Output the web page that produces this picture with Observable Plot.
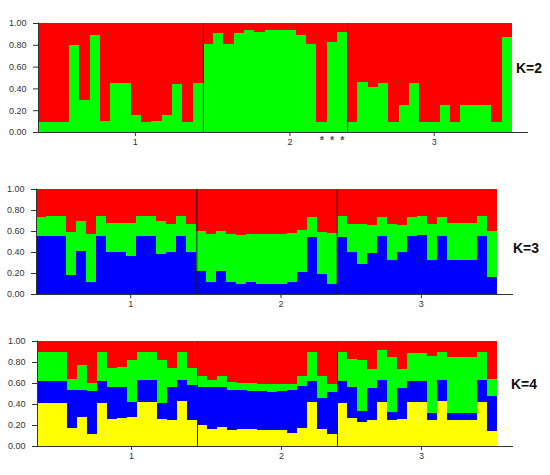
<!DOCTYPE html>
<html><head><meta charset="utf-8">
<script src="https://cdn.jsdelivr.net/npm/d3@7"></script>
<script src="https://cdn.jsdelivr.net/npm/@observablehq/plot@0.6"></script>
<style>
body{margin:0;background:#fff;width:550px;height:475px;position:relative;overflow:hidden;font-family:"Liberation Sans",Arial,sans-serif}
.panel{position:absolute;left:0}
.klab{position:absolute;font-weight:bold;font-size:14px;color:#111;line-height:16px}
</style></head><body>
<div id="p2" class="panel" style="top:0px"></div>
<div id="p3" class="panel" style="top:170px"></div>
<div id="p4" class="panel" style="top:322px"></div>
<div class="klab" style="left:516px;top:60px">K=2</div>
<div class="klab" style="left:513px;top:240px">K=3</div>
<div class="klab" style="left:511px;top:376px">K=4</div>
<script>
// populations
const popLabels = ["1", "2", "3"];
const popSizes = [16, 14, 16];
const popTicks = [9.4, 24.4, 38.4];
const yTicks = [0, 0.2, 0.4, 0.6, 0.8, 1.0];
const starred = [27, 28, 29];

// K=2 membership (bottom to top: green, red)
const k2Green = [0.09,0.09,0.09,0.80,0.29,0.89,0.10,0.45,0.45,0.16,0.09,0.10,0.16,0.44,0.09,0.45,
  0.81,0.91,0.81,0.91,0.94,0.92,0.94,0.94,0.94,0.89,0.81,0.09,0.83,0.92,
  0.09,0.46,0.41,0.45,0.09,0.25,0.45,0.09,0.09,0.25,0.09,0.25,0.25,0.25,0.09,0.87];
const k2Red = [0.91,0.91,0.91,0.20,0.71,0.11,0.90,0.55,0.55,0.84,0.91,0.90,0.84,0.56,0.91,0.55,
  0.19,0.09,0.19,0.09,0.06,0.08,0.06,0.06,0.06,0.11,0.19,0.91,0.17,0.08,
  0.91,0.54,0.59,0.55,0.91,0.75,0.55,0.91,0.91,0.75,0.91,0.75,0.75,0.75,0.91,0.13];

// K=3 membership (bottom to top: blue, green, red)
const k3Blue = [0.55,0.55,0.55,0.18,0.41,0.11,0.55,0.40,0.40,0.36,0.55,0.55,0.38,0.40,0.55,0.40,
  0.22,0.11,0.22,0.11,0.10,0.11,0.10,0.10,0.10,0.11,0.21,0.54,0.19,0.10,
  0.54,0.40,0.29,0.39,0.55,0.32,0.40,0.55,0.56,0.32,0.55,0.32,0.32,0.32,0.55,0.16];
const k3Green = [0.18,0.19,0.19,0.41,0.29,0.46,0.19,0.28,0.28,0.32,0.19,0.19,0.32,0.27,0.19,0.27,
  0.38,0.46,0.38,0.46,0.46,0.46,0.47,0.47,0.47,0.47,0.40,0.19,0.40,0.48,
  0.20,0.27,0.38,0.27,0.18,0.35,0.26,0.18,0.18,0.35,0.18,0.36,0.36,0.36,0.19,0.44];
const k3Red = [0.27,0.26,0.26,0.41,0.30,0.43,0.26,0.32,0.32,0.32,0.26,0.26,0.30,0.33,0.26,0.33,
  0.40,0.43,0.40,0.43,0.44,0.43,0.43,0.43,0.43,0.42,0.39,0.27,0.41,0.42,
  0.26,0.33,0.33,0.34,0.27,0.33,0.34,0.27,0.26,0.33,0.27,0.32,0.32,0.32,0.26,0.40];

// K=4 membership (bottom to top: yellow, blue, green, red)
const k4Yellow = [0.41,0.41,0.41,0.17,0.28,0.11,0.41,0.26,0.27,0.28,0.42,0.42,0.26,0.25,0.43,0.25,
  0.20,0.16,0.18,0.15,0.16,0.16,0.15,0.15,0.15,0.12,0.17,0.42,0.16,0.11,
  0.41,0.27,0.23,0.25,0.42,0.25,0.26,0.42,0.42,0.25,0.43,0.25,0.25,0.25,0.42,0.14];
const k4Blue = [0.21,0.21,0.21,0.36,0.25,0.41,0.21,0.30,0.29,0.14,0.21,0.21,0.15,0.31,0.20,0.33,
  0.36,0.40,0.38,0.38,0.37,0.36,0.37,0.36,0.37,0.41,0.40,0.20,0.30,0.40,
  0.21,0.29,0.10,0.30,0.21,0.07,0.29,0.20,0.20,0.06,0.20,0.06,0.06,0.06,0.21,0.34];
const k4Green = [0.28,0.28,0.28,0.11,0.24,0.08,0.28,0.18,0.19,0.40,0.27,0.27,0.41,0.18,0.27,0.16,
  0.11,0.07,0.11,0.08,0.07,0.08,0.07,0.08,0.07,0.06,0.10,0.28,0.21,0.08,
  0.28,0.27,0.49,0.18,0.28,0.53,0.18,0.27,0.27,0.55,0.27,0.54,0.54,0.54,0.27,0.16];
const k4Red = [0.10,0.10,0.10,0.36,0.23,0.40,0.10,0.26,0.25,0.18,0.10,0.10,0.18,0.26,0.10,0.26,
  0.33,0.37,0.33,0.39,0.40,0.40,0.41,0.41,0.41,0.41,0.33,0.10,0.33,0.41,
  0.10,0.17,0.18,0.27,0.09,0.15,0.27,0.11,0.11,0.14,0.10,0.15,0.15,0.15,0.10,0.36];

const RED = "#ff0000", GREEN = "#00ff00", BLUE = "#0000ff", YELLOW = "#ffff00";
const N = d3.sum(popSizes);
const bounds = d3.cumsum(popSizes).slice(0, -1);

function panel(el, layers, colors, g, stars) {
  const rows = [];
  for (let i = 0; i < N; i++) {
    let cum = 0;
    layers.forEach((arr, j) => {
      const v = arr[i];
      rows.push({i, y1: cum, y2: cum + v, c: colors[j]});
      cum += v;
    });
    rows[rows.length - 1].y2 = 1;
  }
  // x domain extends beyond the bars so the baseline runs past them
  const xMax = N * (g.axisEnd - g.left) / (g.barEnd - g.left);
  const marks = [
    Plot.rect(rows, {x1: "i", x2: d => d.i + 1, y1: "y1", y2: "y2", fill: "c", shapeRendering: "crispEdges"}),
    Plot.ruleX(bounds, {y1: 0, y2: 1, stroke: "#1a1a1a", strokeWidth: 1}),
    Plot.ruleX([0], {y1: 0, y2: 1.005, stroke: "#333"}),
    Plot.ruleY([0], {x1: 0, x2: xMax, stroke: "#333"}),
    Plot.axisY(yTicks, {tickSize: 5, tickPadding: 7, tickFormat: d3.format(".2f"), fontSize: 9, color: "#333", label: null}),
    Plot.axisX(popTicks, {tickSize: 4, tickPadding: 2, tickFormat: d => popLabels[popTicks.indexOf(d)], fontSize: 9, color: "#333", label: null})
  ];
  if (stars) marks.push(Plot.text(stars, {x: d => d + 0.5, y: 0, dy: 8, text: () => "*", fontSize: 11, fontWeight: "bold", fill: "#555"}));
  const chart = Plot.plot({
    width: 550, height: g.height,
    marginLeft: g.left, marginRight: 550 - g.axisEnd, marginTop: g.top, marginBottom: g.height - g.bottom,
    x: {domain: [0, xMax], axis: null},
    y: {domain: [0, 1], axis: null},
    color: {type: "identity"},
    style: {fontFamily: "'Liberation Sans', Arial, sans-serif", fontSize: "9px", background: "transparent"},
    marks
  });
  document.getElementById(el).appendChild(chart);
}

panel("p2", [k2Green, k2Red], [GREEN, RED], {height: 155, top: 23, bottom: 132, left: 38, barEnd: 512, axisEnd: 528}, starred);
panel("p3", [k3Blue, k3Green, k3Red], [BLUE, GREEN, RED], {height: 145, top: 19, bottom: 124, left: 36, barEnd: 497, axisEnd: 513});
panel("p4", [k4Yellow, k4Blue, k4Green, k4Red], [YELLOW, BLUE, GREEN, RED], {height: 150, top: 19, bottom: 124, left: 37, barEnd: 497, axisEnd: 513});
</script>
</body></html>
